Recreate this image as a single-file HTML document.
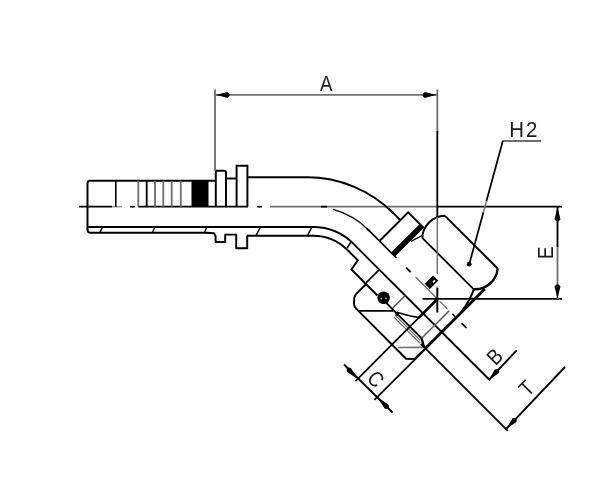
<!DOCTYPE html>
<html lang="en"><head><meta charset="utf-8"><title>Hose fitting 45 degree swivel - dimension drawing</title>
<style>
html,body{margin:0;padding:0;background:#fff;overflow:hidden}
svg{display:block;filter:grayscale(1) blur(0.6px)}
</style></head>
<body>
<svg width="600" height="501" viewBox="0 0 600 501" fill="none" stroke-linecap="butt">
<rect x="0" y="0" width="600" height="501" fill="#fff"/>
<!-- centre line -->
<line x1="79.00" y1="206.70" x2="112.00" y2="206.70" stroke="#000" stroke-width="1.72" />
<line x1="112.00" y1="206.70" x2="122.00" y2="206.70" stroke="#999" stroke-width="1.49" />
<line x1="130.00" y1="206.70" x2="135.00" y2="206.70" stroke="#000" stroke-width="1.72" />
<line x1="138.00" y1="206.70" x2="248.00" y2="206.70" stroke="#000" stroke-width="1.84" />
<line x1="257.00" y1="206.70" x2="262.00" y2="206.70" stroke="#000" stroke-width="1.72" />
<line x1="270.00" y1="206.70" x2="437.50" y2="206.70" stroke="#707070" stroke-width="1.84" />
<line x1="321.00" y1="206.70" x2="327.00" y2="206.70" stroke="#000" stroke-width="1.72" />
<line x1="437.50" y1="206.70" x2="562.00" y2="206.70" stroke="#000" stroke-width="1.84" />
<!-- hose tail, exterior half -->
<path d="M87.5,230 V183.3 Q87.5,180.8 90,180.8 H215.5" stroke="#000" stroke-width="1.95" fill="none" />
<path d="M215.8,206.7 V170.8 H224 Q226,170.8 226,172.8 V206.7" stroke="#000" stroke-width="1.95" fill="none" />
<path d="M226,178.5 H236.5" stroke="#000" stroke-width="1.95" fill="none" />
<path d="M236.6,206.7 V165.8 H247.4 V206.7" stroke="#000" stroke-width="1.95" fill="none" />
<line x1="115.80" y1="180.80" x2="115.80" y2="206.70" stroke="#000" stroke-width="1.61" />
<line x1="138.30" y1="180.80" x2="138.30" y2="206.70" stroke="#707070" stroke-width="1.84" />
<line x1="146.70" y1="180.80" x2="146.70" y2="206.70" stroke="#000" stroke-width="1.84" />
<line x1="155.00" y1="180.80" x2="155.00" y2="206.70" stroke="#707070" stroke-width="1.84" />
<line x1="163.30" y1="180.80" x2="163.30" y2="206.70" stroke="#707070" stroke-width="1.84" />
<line x1="171.70" y1="180.80" x2="171.70" y2="206.70" stroke="#707070" stroke-width="1.84" />
<line x1="180.80" y1="180.80" x2="180.80" y2="206.70" stroke="#707070" stroke-width="1.84" />
<rect x="191.5" y="180" width="17" height="26.7" fill="#000"/>
<!-- tube and bend -->
<path d="M247.5,177.3 H306.97 A122.0,122.0 0 0 1 393.23,213.03" stroke="#000" stroke-width="1.95" fill="none" />
<path d="M87.5,227.00 H313.0 A57.44,57.44 0 0 1 353.61,243.82" stroke="#000" stroke-width="1.95" fill="none" />
<path d="M247,235.70 H313.0 A48.74,48.74 0 0 1 347.46,249.97" stroke="#000" stroke-width="1.95" fill="none" />
<path d="M333.12,209.35 A77.74,77.74 0 0 1 369.39,230.93" stroke="#000" stroke-width="1.38" fill="none" />
<line x1="351.00" y1="242.00" x2="347.00" y2="248.00" stroke="#000" stroke-width="1.49" />
<!-- hose tail, section half -->
<path d="M87.5,229.5 Q87.5,232.7 90.5,232.7 H206 L214,233.3 L215.6,236 V242 H225.2 V234.6 H236.2 V248.2 H247.2 V235.4" stroke="#000" stroke-width="1.95" fill="none" stroke-linejoin="round"/>
<line x1="100.00" y1="232.50" x2="102.50" y2="226.80" stroke="#000" stroke-width="1.49" />
<line x1="152.50" y1="232.50" x2="155.00" y2="226.80" stroke="#000" stroke-width="1.49" />
<line x1="204.50" y1="232.50" x2="207.00" y2="226.80" stroke="#000" stroke-width="1.49" />
<line x1="256.00" y1="235.70" x2="260.50" y2="226.80" stroke="#000" stroke-width="1.49" />
<line x1="307.50" y1="235.70" x2="312.00" y2="226.80" stroke="#000" stroke-width="1.49" />
<!-- 45 degree swivel end -->
<g transform="translate(437.5,299.0) rotate(45)">
<line x1="-98.30" y1="-29.50" x2="-82.00" y2="-29.50" stroke="#000" stroke-width="1.95" />
<path d="M-82,0 V-40.5 H-61 V0" stroke="#000" stroke-width="1.95" fill="none" />
<rect x="-65.6" y="-40.5" width="4.8" height="40.5" fill="#000"/>
<line x1="-99.50" y1="0.00" x2="-58.00" y2="0.00" stroke="#000" stroke-width="1.72" />
<line x1="-44.50" y1="0.00" x2="-38.00" y2="0.00" stroke="#000" stroke-width="1.72" />
<line x1="-31.00" y1="0.00" x2="0.00" y2="0.00" stroke="#707070" stroke-width="1.49" />
<line x1="3.00" y1="0.00" x2="14.00" y2="0.00" stroke="#707070" stroke-width="1.38" />
<line x1="21.00" y1="0.00" x2="25.00" y2="0.00" stroke="#000" stroke-width="1.49" />
<line x1="34.00" y1="0.00" x2="41.00" y2="0.00" stroke="#000" stroke-width="1.72" />
<rect x="-19.8" y="-13.6" width="7.4" height="12" fill="#000"/>
<rect x="-15.8" y="-11.6" width="1.6" height="3" fill="#fff"/>
<line x1="-98.30" y1="20.40" x2="94.50" y2="20.40" stroke="#000" stroke-width="1.84" />
<path d="M-98.3,29.0 H-83.6 L-81.8,40 H-45" stroke="#000" stroke-width="1.95" fill="none" />
<line x1="-33.50" y1="39.00" x2="16.60" y2="39.00" stroke="#000" stroke-width="1.95" />
<line x1="-18.50" y1="41.40" x2="17.00" y2="41.40" stroke="#555" stroke-width="1.03" />
<line x1="-18.00" y1="43.60" x2="19.00" y2="43.60" stroke="#555" stroke-width="1.03" />
<circle cx="-17.5" cy="39.3" r="1.7" fill="#000"/>
<path d="M-19.5,38.2 Q-9,32.8 0,26.2" stroke="#000" stroke-width="1.72" fill="none" />
<line x1="16.20" y1="38.80" x2="24.80" y2="43.80" stroke="#000" stroke-width="2.3" />
<path d="M-61,39.5 V54.5 Q-60.6,57.6 -57.6,60.4 L-55,63 Q-53.4,64.4 -50,64.4 H20 L26.2,58.5 V44" stroke="#000" stroke-width="1.95" fill="none" />
<line x1="-47.60" y1="64.30" x2="-22.90" y2="39.60" stroke="#000" stroke-width="1.72" />
<line x1="6.40" y1="62.20" x2="24.00" y2="44.50" stroke="#707070" stroke-width="1.72" />
<line x1="-62.00" y1="20.40" x2="-62.00" y2="39.50" stroke="#000" stroke-width="1.61" />
<line x1="-25.30" y1="20.40" x2="-25.30" y2="38.00" stroke="#555" stroke-width="1.61" />
<line x1="0.00" y1="0.00" x2="0.00" y2="27.00" stroke="#000" stroke-width="2.64" />
<line x1="0.00" y1="27.00" x2="0.00" y2="116.00" stroke="#000" stroke-width="1.72" />
<line x1="16.60" y1="0.00" x2="16.60" y2="39.00" stroke="#555" stroke-width="1.49" />
<line x1="26.40" y1="-40.50" x2="26.40" y2="44.00" stroke="#000" stroke-width="2.76" />
<line x1="26.80" y1="44.00" x2="26.80" y2="116.00" stroke="#000" stroke-width="1.72" />
<line x1="20.00" y1="43.50" x2="143.00" y2="43.50" stroke="#000" stroke-width="1.84" />
<path d="M-53.5,-64.1 H21" stroke="#000" stroke-width="1.95" fill="none" />
<line x1="-54.00" y1="-32.50" x2="18.50" y2="-32.50" stroke="#000" stroke-width="1.84" />
<path d="M-53.5,-64.1 A23,23 0 0 0 -54,-32.5" stroke="#000" stroke-width="1.95" fill="none" />
<line x1="-59.50" y1="-22.00" x2="-55.50" y2="-35.00" stroke="#000" stroke-width="1.38" />
<path d="M21,-64.1 A22.6,22.6 0 0 1 18.7,-32.5" stroke="#000" stroke-width="2.42" fill="none" />
<path d="M18.9,-32.5 Q24,-22 25.8,-9" stroke="#000" stroke-width="1.95" fill="none" />
</g>
<circle cx="383.6" cy="297.8" r="6.3" fill="#000"/>
<circle cx="381.2" cy="298.4" r="0.9" fill="#aaa"/>
<circle cx="386" cy="298.4" r="0.9" fill="#aaa"/>
<line x1="422.50" y1="298.80" x2="562.00" y2="298.80" stroke="#000" stroke-width="1.84" />
<line x1="437.30" y1="287.50" x2="437.30" y2="312.50" stroke="#000" stroke-width="1.95" />
<!-- dimension A -->
<line x1="215.00" y1="89.50" x2="215.00" y2="171.00" stroke="#707070" stroke-width="1.84" />
<line x1="437.30" y1="89.50" x2="437.30" y2="131.00" stroke="#707070" stroke-width="1.84" />
<line x1="437.30" y1="131.00" x2="437.30" y2="217.00" stroke="#000" stroke-width="1.84" />
<line x1="437.30" y1="217.00" x2="437.30" y2="274.00" stroke="#707070" stroke-width="1.49" />
<line x1="215.00" y1="94.90" x2="437.30" y2="94.90" stroke="#707070" stroke-width="1.84" />
<path transform="translate(215.5,94.9) rotate(180)" d="M0,0 L-6.8,-1.65 L-12.0,-3.00 Q-16.5,0 -12.0,3.00 L-6.8,1.65 Z" fill="#000"/>
<path transform="translate(436.8,94.9) rotate(0)" d="M0,0 L-6.8,-1.65 L-12.0,-3.00 Q-16.5,0 -12.0,3.00 L-6.8,1.65 Z" fill="#000"/>
<!-- dimension E -->
<line x1="557.50" y1="206.70" x2="557.50" y2="247.00" stroke="#000" stroke-width="1.84" />
<line x1="557.50" y1="247.00" x2="557.50" y2="299.00" stroke="#707070" stroke-width="1.84" />
<path transform="translate(557.5,207.2) rotate(-90)" d="M0,0 L-6.8,-1.65 L-12.0,-3.00 Q-16.5,0 -12.0,3.00 L-6.8,1.65 Z" fill="#000"/>
<path transform="translate(557.5,298.5) rotate(90)" d="M0,0 L-6.8,-1.65 L-12.0,-3.00 Q-16.5,0 -12.0,3.00 L-6.8,1.65 Z" fill="#000"/>
<!-- H2 leader -->
<line x1="502.50" y1="141.00" x2="541.00" y2="141.00" stroke="#707070" stroke-width="1.95" />
<line x1="502.80" y1="141.00" x2="486.40" y2="201.20" stroke="#000" stroke-width="1.72" />
<line x1="486.40" y1="201.20" x2="483.40" y2="212.20" stroke="#777" stroke-width="1.49" />
<line x1="483.40" y1="212.20" x2="469.30" y2="264.00" stroke="#000" stroke-width="1.72" />
<circle cx="469.2" cy="264.2" r="2.4" fill="#000"/>
<!-- B, T, C -->
<line x1="488.70" y1="380.00" x2="516.70" y2="350.30" stroke="#000" stroke-width="1.84" />
<path transform="translate(489.2,379.5) rotate(133)" d="M0,0 L-6.3,-1.54 L-11.2,-2.80 Q-15.5,0 -11.2,2.80 L-6.3,1.54 Z" fill="#000"/>
<line x1="506.50" y1="428.50" x2="565.00" y2="367.00" stroke="#000" stroke-width="1.84" />
<path transform="translate(506.8,428.2) rotate(133.5)" d="M0,0 L-6.3,-1.54 L-11.2,-2.80 Q-15.5,0 -11.2,2.80 L-6.3,1.54 Z" fill="#000"/>
<line x1="344.00" y1="364.50" x2="392.50" y2="412.50" stroke="#000" stroke-width="1.84" />
<path transform="translate(358.5,379.5) rotate(45)" d="M0,0 L-7.7,-1.54 L-13.6,-2.80 Q-18.5,0 -13.6,2.80 L-7.7,1.54 Z" fill="#000"/>
<path transform="translate(377,397) rotate(225)" d="M0,0 L-7.7,-1.54 L-13.6,-2.80 Q-18.5,0 -13.6,2.80 L-7.7,1.54 Z" fill="#000"/>
<text transform="translate(326.2,83.3) rotate(0) scale(0.87,1)" x="0" y="7.40" font-family="'Liberation Sans', sans-serif" font-size="21.5" text-anchor="middle" letter-spacing="0" fill="#1a1a1a" stroke="none">A</text>
<text transform="translate(524.3,129.6) rotate(0) scale(0.95,1)" x="0" y="7.40" font-family="'Liberation Sans', sans-serif" font-size="21.5" text-anchor="middle" letter-spacing="2" fill="#1a1a1a" stroke="none">H2</text>
<text transform="translate(545.6,252.8) rotate(-90) scale(0.87,1)" x="0" y="7.40" font-family="'Liberation Sans', sans-serif" font-size="21.5" text-anchor="middle" letter-spacing="0" fill="#1a1a1a" stroke="none">E</text>
<text transform="translate(494.6,356.6) rotate(-45) scale(0.87,1)" x="0" y="7.40" font-family="'Liberation Sans', sans-serif" font-size="21.5" text-anchor="middle" letter-spacing="0" fill="#1a1a1a" stroke="none">B</text>
<text transform="translate(526.5,388.3) rotate(-45) scale(0.87,1)" x="0" y="7.40" font-family="'Liberation Sans', sans-serif" font-size="21.5" text-anchor="middle" letter-spacing="0" fill="#1a1a1a" stroke="none">T</text>
<text transform="translate(375.8,379) rotate(45) scale(0.87,1)" x="0" y="7.40" font-family="'Liberation Sans', sans-serif" font-size="21.5" text-anchor="middle" letter-spacing="0" fill="#1a1a1a" stroke="none">C</text>
</svg>
</body></html>
